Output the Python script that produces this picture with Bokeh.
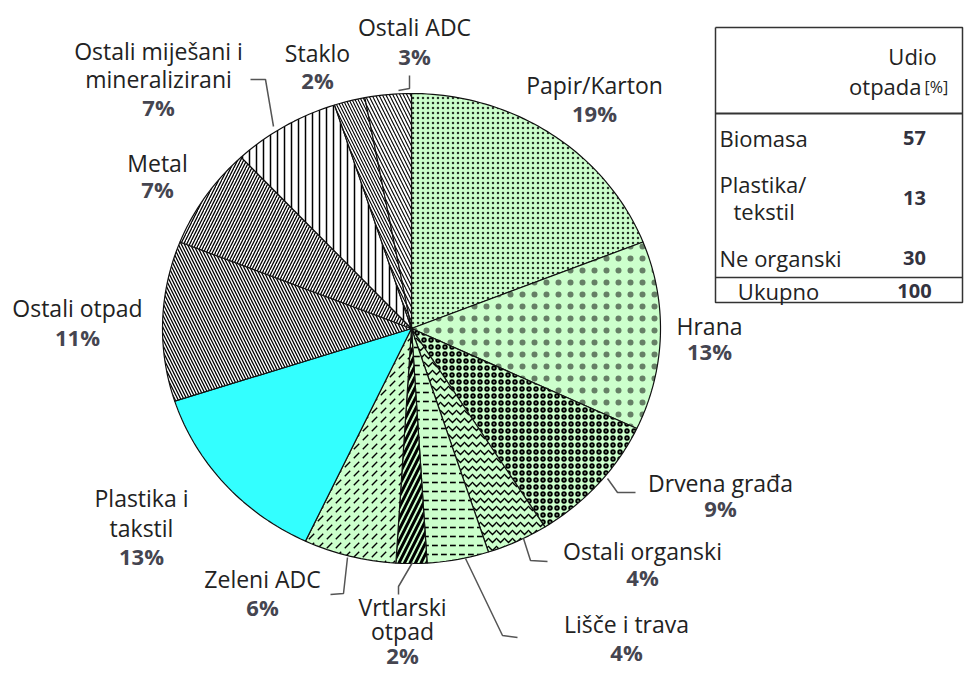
import numpy as np
from bokeh.plotting import figure
from bokeh.models import Range1d, ColumnDataSource
from bokeh.core.properties import value
from bokeh.embed import file_html
from bokeh.resources import INLINE

# ---------------- data ----------------
categories = ["Papir/Karton", "Hrana", "Drvena građa", "Ostali organski", "Lišče i trava",
              "Vrtlarski otpad", "Zeleni ADC", "Plastika i takstil", "Ostali otpad", "Metal",
              "Ostali miješani i mineralizirani", "Staklo", "Ostali ADC"]
shares = [19, 13, 9, 4, 4, 2, 6, 13, 11, 7, 7, 2, 3]

table_groups = ["Biomasa", "Plastika/\ntekstil", "Ne organski"]
table_values = [57, 13, 30]
table_total_label = "Ukupno"
table_total = 100

# ---------------- styles ----------------
LG = "#ccffcc"
fills = [LG, LG, LG, LG, LG, LG, LG, "#33ffff", "white", "white", "white", "white", "white"]
hatches = [".", ".", "o", "v", '"', "/", ",", " ", "\\", "/", "|", "\\", "\\"]
hscale = [5, 12, 7, 8, 9, 11, 9, 1, 6, 6, 7, 6, 7]
hweight = [1.0, 0.5, 1.9, 1.4, 1.6, 3.0, 1.3, 1, 1.3, 1.3, 1.5, 1.1, 1.1]
halpha = [0.8, 0.5, 1, 1, 1, 1, 1, 1, 1, 1, 1, 1, 1]

# label layout (pixel positions): x, y of first line, gap between lines, gap to percent
label_layout = [
    (594, 84, 26, 28),    # Papir/Karton
    (709, 325, 26, 25),   # Hrana
    (720, 482, 26, 25),   # Drvena
    (642, 550, 26, 26),   # Ostali organski
    (626, 623, 26, 28),   # Lisce
    (402, 606, 24, 24),   # Vrtlarski
    (262, 578, 26, 28),   # Zeleni
    (141, 497, 30, 28),   # Plastika
    (77, 307, 26, 29),    # Ostali otpad
    (157, 162, 26, 26),   # Metal
    (158, 50, 28, 28),    # Mijesani
    (317, 52, 26, 27),    # Staklo
    (414, 26, 26, 29),    # Ostali ADC
]
label_lines = [
    ["Papir/Karton"], ["Hrana"], ["Drvena građa"], ["Ostali organski"], ["Lišče i trava"],
    ["Vrtlarski", "otpad"], ["Zeleni ADC"], ["Plastika i", "takstil"], ["Ostali otpad"], ["Metal"],
    ["Ostali miješani i", "mineralizirani"], ["Staklo"], ["Ostali ADC"],
]

leaders = [
    [(398, 90), (409, 88), (409, 75)],
    [(250, 79), (265, 79), (273, 126)],
    [(607, 478), (617, 492), (635, 492)],
    [(523, 538), (530, 560), (547, 561)],
    [(465, 558), (502, 635), (517, 637)],
    [(412, 562), (398, 586), (398, 594)],
    [(347, 557), (343, 593), (330, 594)],
]

W, H = 964, 673
p = figure(width=W, height=H, output_backend="svg", toolbar_location=None,
           x_range=Range1d(0, W), y_range=Range1d(H, 0),
           min_border=0, outline_line_color=None)
p.axis.visible = False
p.grid.visible = False
p.background_fill_color = "white"

# ---------------- pie ----------------
cx, cy, rx, ry = 411, 328, 249, 235
vals = np.array(shares, dtype=float)
ends = np.cumsum(vals) / vals.sum()
starts = ends - vals / vals.sum()
xs, ys = [], []
for s, e in zip(starts, ends):
    n = max(4, int((e - s) * 300))
    t = np.linspace(s, e, n) * 2 * np.pi
    xs.append(list(np.r_[cx, cx + rx * np.sin(t)]))
    ys.append(list(np.r_[cy, cy - ry * np.cos(t)]))

src = ColumnDataSource(dict(xs=xs, ys=ys, fill=fills, hp=hatches, hs=hscale, hw=hweight,
                            ha=halpha))
p.patches("xs", "ys", source=src, fill_color="fill", hatch_pattern="hp", hatch_scale="hs",
          hatch_weight="hw", hatch_alpha="ha", hatch_color="black", line_color="#111111",
          line_width=1.2)

# ---------------- labels ----------------
FONT = value("Open Sans")
for (x, y, g1, g2), lines, v in zip(label_layout, label_lines, shares):
    yy = y
    for i, ln in enumerate(lines):
        if i > 0:
            yy += g1
        p.text(x=[x], y=[yy], text=[ln], text_font=FONT, text_font_size="23px",
               text_color="#222222", text_align="center", text_baseline="middle")
    p.text(x=[x], y=[yy + g2], text=[f"{v}%"], text_font=FONT,
           text_font_size="22px", text_font_style="bold", text_color="#454550",
           text_align="center", text_baseline="middle")

for pts in leaders:
    p.line([q[0] for q in pts], [q[1] for q in pts], line_color="#555555", line_width=1.5)

# ---------------- table ----------------
tl, tr, tt, tb = 715, 962, 27, 302
p.line([tl, tr, tr, tl, tl], [tt, tt, tb, tb, tt], line_color="#333333", line_width=1.5)
p.line([tl, tr], [113, 113], line_color="#333333", line_width=2.2)
p.line([tl, tr], [277, 277], line_color="#333333", line_width=1.5)

TF = "22px"
p.text(x=[912], y=[55], text=["Udio"], text_font=FONT, text_font_size=TF,
       text_color="#222222", text_align="center", text_baseline="middle")
p.text(x=[921], y=[85], text=["otpada"], text_font=FONT, text_font_size=TF,
       text_color="#222222", text_align="right", text_baseline="middle")
p.text(x=[924], y=[86], text=["[%]"], text_font=FONT, text_font_size="16px",
       text_color="#222222", text_align="left", text_baseline="middle")

row_y = [137, 197, 257]
for g, v, y in zip(table_groups, table_values, row_y):
    parts = g.split("\n")
    if len(parts) == 1:
        p.text(x=[719], y=[y], text=[parts[0]], text_font=FONT, text_font_size=TF,
               text_color="#222222", text_align="left", text_baseline="middle")
    else:
        p.text(x=[719], y=[y - 14], text=[parts[0]], text_font=FONT, text_font_size=TF,
               text_color="#222222", text_align="left", text_baseline="middle")
        p.text(x=[733], y=[y + 13], text=[parts[1]], text_font=FONT, text_font_size=TF,
               text_color="#222222", text_align="left", text_baseline="middle")
    p.text(x=[914], y=[y], text=[str(v)], text_font=FONT, text_font_size="20px",
           text_font_style="bold", text_color="#333340", text_align="center",
           text_baseline="middle")

p.text(x=[778], y=[290], text=[table_total_label], text_font=FONT, text_font_size=TF,
       text_color="#222222", text_align="center", text_baseline="middle")
p.text(x=[914], y=[290], text=[str(table_total)], text_font=FONT, text_font_size="20px",
       text_font_style="bold", text_color="#333340", text_align="center", text_baseline="middle")

open("out.html", "w").write(file_html(p, INLINE))
